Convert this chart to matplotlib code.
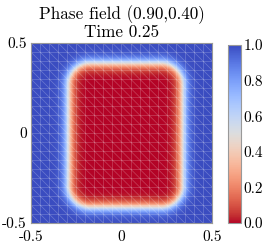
import numpy as np
import matplotlib
matplotlib.use("Agg")
import matplotlib.pyplot as plt

plt.rcParams['font.family'] = 'serif'
plt.rcParams['font.serif'] = ['cmr10', 'DejaVu Serif']
plt.rcParams['mathtext.fontset'] = 'cm'
plt.rcParams['axes.unicode_minus'] = False

# shape of the phase field (0.5 contour)
center = (0.02, -0.015)
half_size = (0.315, 0.40)
corner_radius = 0.12
interface_eps = 0.035

xticks = [-0.5, 0, 0.5]
xticklabels = ['-0.5', '0', '0.5']
yticks = [-0.5, 0, 0.5]
yticklabels = ['-0.5', '0', '0.5']
cticks = [0.0, 0.2, 0.4, 0.6, 0.8, 1.0]
cticklabels = ['0.0', '0.2', '0.4', '0.6', '0.8', '1.0']
mesh_cells = 20

# evaluate phase field on a fine grid (signed distance to rounded box)
n = 300
gx = np.linspace(-0.5, 0.5, n)
X, Y = np.meshgrid(gx, gx)
qx = np.abs(X - center[0]) - (half_size[0] - corner_radius)
qy = np.abs(Y - center[1]) - (half_size[1] - corner_radius)
d = np.hypot(np.maximum(qx, 0), np.maximum(qy, 0)) + np.minimum(np.maximum(qx, qy), 0) - corner_radius
phi = 0.5 * (1 + np.tanh(d / interface_eps))

fig = plt.figure(figsize=(2.66, 2.45), dpi=100)
ax = fig.add_axes([0.1165, 0.0898, 0.6805, 0.7347])
im = ax.imshow(phi, extent=[-0.5, 0.5, -0.5, 0.5], origin='lower',
               cmap='coolwarm_r', vmin=0, vmax=1, interpolation='bilinear')

# faint triangular mesh
m = np.linspace(-0.5, 0.5, mesh_cells + 1)
for v in m:
    ax.plot([v, v], [-0.5, 0.5], color='white', lw=0.5, alpha=0.25)
    ax.plot([-0.5, 0.5], [v, v], color='white', lw=0.5, alpha=0.25)
for k in range(-mesh_cells, mesh_cells + 1):
    x0 = -0.5 + k / mesh_cells
    ax.plot([x0, x0 + 1], [0.5, -0.5], color='white', lw=0.5, alpha=0.25)
ax.set_xlim(-0.5, 0.5)
ax.set_ylim(-0.5, 0.5)
ax.set_aspect('auto')

ax.set_xticks(xticks)
ax.set_xticklabels(xticklabels)
ax.set_yticks(yticks)
ax.set_yticklabels(yticklabels)
ax.tick_params(length=0, labelsize=11, pad=3)
ax.tick_params(axis='x', pad=5)
for s in ax.spines.values():
    s.set_color('#999999')
    s.set_linewidth(0.8)
ax.set_title('Phase field (0.90,0.40)\nTime 0.25', fontsize=12.3, pad=4, linespacing=1.1)

cax = fig.add_axes([0.857, 0.0898, 0.049, 0.7265])
cb = fig.colorbar(im, cax=cax)
cb.set_ticks(cticks)
cb.set_ticklabels(cticklabels)
cb.ax.tick_params(length=0, labelsize=11, pad=2)
cb.outline.set_edgecolor('#999999')
cb.outline.set_linewidth(0.8)

fig.savefig('out.png', dpi=100)
